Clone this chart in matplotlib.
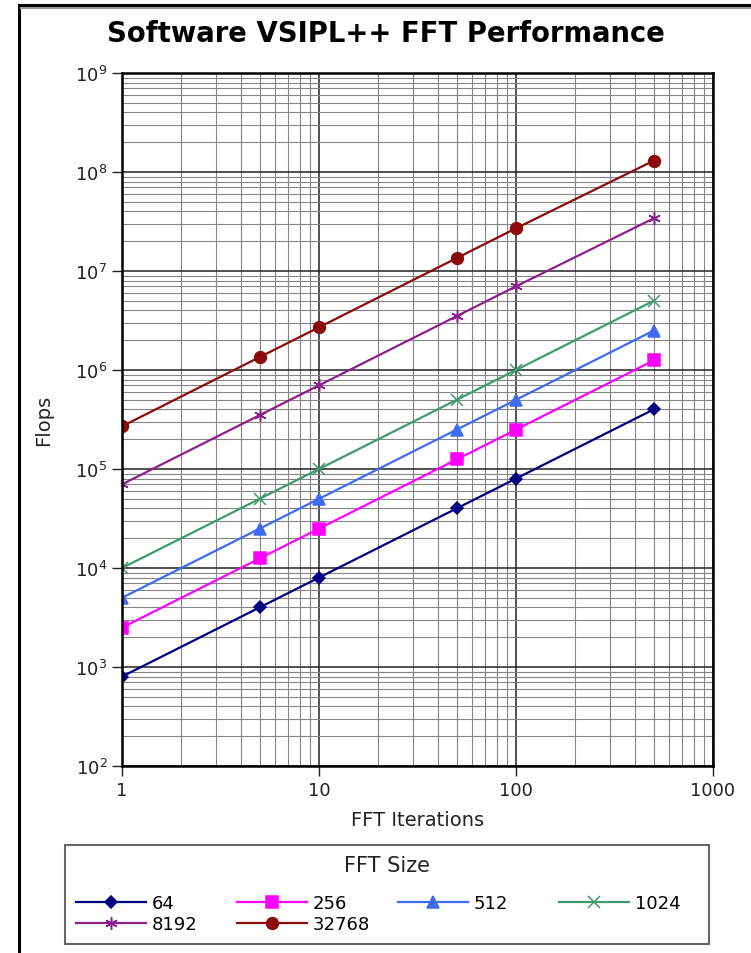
import matplotlib
matplotlib.use('Agg')
import matplotlib.pyplot as plt
from matplotlib.lines import Line2D
from matplotlib.ticker import LogLocator, NullFormatter

# FFT iterations on the x axis
iterations = [1, 5, 10, 50, 100, 500]

# flops per FFT size
fft_sizes = ['64', '256', '512', '1024', '8192', '32768']
flops_64 = [800, 4000, 8000, 40000, 80000, 400000]
flops_256 = [2500, 12500, 25000, 125000, 250000, 1250000]
flops_512 = [5000, 25000, 50000, 250000, 500000, 2500000]
flops_1024 = [10000, 50000, 100000, 500000, 1000000, 5000000]
flops_8192 = [70000, 350000, 700000, 3500000, 7000000, 34000000]
flops_32768 = [270000, 1350000, 2700000, 13500000, 27000000, 130000000]

series = [flops_64, flops_256, flops_512, flops_1024, flops_8192, flops_32768]
colors = ['#000080', '#ff00ff', '#3d6cf0', '#3f9a6e', '#8c1f8c', '#8b0a0a']
markers = ['D', 's', '^', 'x', (6, 2, 0), 'o']
msizes = [6, 8, 8, 9, 9, 8.5]

fig = plt.figure(figsize=(7.51, 9.54), dpi=100)
ax = fig.add_axes([122 / 751, 1 - 767 / 954, (713 - 122) / 751, (767 - 74) / 954])

lines = []
for name, vals, c, m, ms in zip(fft_sizes, series, colors, markers, msizes):
    ln, = ax.plot(iterations, vals, color=c, marker=m, markersize=ms, linewidth=1.6,
                  markeredgewidth=1.1, label=name)
    lines.append(ln)

ax.set_xscale('log')
ax.set_yscale('log')
ax.set_xlim(1, 1000)
ax.set_ylim(1e2, 1e9)
ax.set_xticks([1, 10, 100, 1000])
ax.set_xticklabels(['1', '10', '100', '1000'])
ax.xaxis.set_minor_locator(LogLocator(base=10, subs=range(2, 10)))
ax.yaxis.set_minor_locator(LogLocator(base=10, subs=range(2, 10), numticks=20))
ax.xaxis.set_minor_formatter(NullFormatter())
ax.yaxis.set_minor_formatter(NullFormatter())

# Оформление
ax.grid(True, which='major', color='#222222', linewidth=1.1)
ax.grid(True, which='minor', color='#858585', linewidth=0.8)
ax.tick_params(which='major', length=7, width=1, labelsize=13, colors='#222222')
ax.tick_params(which='minor', length=0)
for s in ax.spines.values():
    s.set_linewidth(1.8)
ax.set_xlabel('FFT Iterations', fontsize=14, color='#222222', labelpad=8)
ax.set_ylabel('Flops', fontsize=14, color='#222222', labelpad=16)

fig.text(386 / 751, 1 - 34 / 954, 'Software VSIPL++ FFT Performance',
         ha='center', va='center', fontsize=19.8, fontweight='bold')

# порядок по строкам: 64 256 512 1024 / 8192 32768
order = [0, 4, 1, 5, 2, 3]
leg = fig.legend([lines[i] for i in order], [fft_sizes[i] for i in order],
                 loc='lower left', ncol=4, mode='expand', alignment='left',
                 bbox_to_anchor=(65 / 751, 1 - 945 / 954, 644 / 751, 99 / 954),
                 fontsize=13, handlelength=3.9, frameon=True, fancybox=False,
                 framealpha=1, borderpad=0.61, borderaxespad=0,
                 labelspacing=0.15, handletextpad=0.3)
# пустой заголовок держит место, сам текст рисуется по центру рамки
leg.set_title(' ', prop={'size': 15})
leg._legend_box.sep = 13
# колонки одинаковой ширины
leg._legend_handle_box.mode = 'equal'
leg._legend_handle_box.set_width(644)
fig.text(387 / 751, 1 - 866 / 954, 'FFT Size', ha='center', va='center',
         fontsize=15, color='#222222', zorder=10)
leg.get_frame().set_edgecolor('#666666')
leg.get_frame().set_linewidth(1.5)

# рамка вокруг картинки
fig.add_artist(Line2D([19 / 751, 19 / 751], [0, 1 - 6 / 954], color='black', linewidth=2.2))
fig.add_artist(Line2D([19 / 751, 1], [1 - 6 / 954, 1 - 6 / 954], color='black', linewidth=2.2))
fig.add_artist(Line2D([21 / 751, 1], [1 - 9 / 954, 1 - 9 / 954], color='#999999', linewidth=1.5))

fig.savefig('out.png', dpi=100)
